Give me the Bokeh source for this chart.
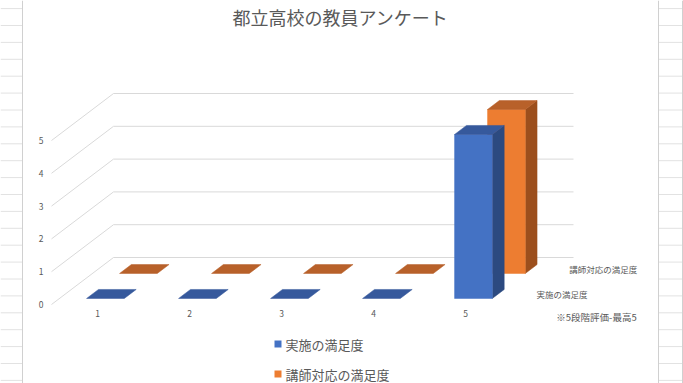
from bokeh.plotting import figure
from bokeh.models import Range1d
from bokeh.embed import file_html
from bokeh.resources import INLINE
from bokeh.core.properties import value

# ---------------- data ----------------
chart_title = "都立高校の教員アンケート"
categories = [1, 2, 3, 4, 5]
series_names = ["実施の満足度", "講師対応の満足度"]
jisshi = [0, 0, 0, 0, 5]       # 実施の満足度
koushi = [0, 0, 0, 0, 5]       # 講師対応の満足度
value_ticks = [0, 1, 2, 3, 4, 5]
depth_axis_title = "※5段階評価-最高5"

series_values = [jisshi, koushi]
front_colors = ["#4472C4", "#ED7D31"]
side_colors = ["#2C4A80", "#9C4F1D"]
top_colors = ["#36599C", "#B8612A"]

FONT = value("Noto Sans CJK JP")
TXT = "#595959"

# ---------------- layout / projection ----------------
W, H = 683, 383
FX0, FY0 = 0, 0
X0, CX, DX = 97.0, 92.0, 62.0
Y0, VY, DY = 304.0, 32.8, 47.0
BAR_W = 0.41
DEPTH = [(0.128, 0.32), (0.66, 0.85)]


def px(page_x):
    return 1 + (page_x - X0) / CX


def py(page_y):
    return (Y0 - page_y) / VY


def proj(c, v, d):
    return c + d * DX / CX, v + d * DY / VY


p = figure(width=W, height=H, output_backend="svg", toolbar_location=None,
           x_range=Range1d(px(FX0), px(FX0 + W)),
           y_range=Range1d(py(FY0 + H), py(FY0)),
           x_axis_location=None, y_axis_location=None,
           min_border=0, outline_line_color=None, background_fill_color="white",
           border_fill_color="white")
p.grid.visible = False

# spreadsheet background grid (outside chart area)
gx, gy = [], []
rows = [8.1] + [25 + 16.9 * k for k in range(22)]
for ry in rows:
    for a, b in ((FX0, 22), (658, FX0 + W)):
        gx.append([px(a), px(b)])
        gy.append([py(ry), py(ry)])
p.multi_line(gx, gy, line_color="#e2e2e2", line_width=1)
p.multi_line([[px(22), px(22)], [px(658), px(658)], [px(682), px(682)]],
             [[py(0), py(400)], [py(0), py(400)], [py(0), py(400)]],
             line_color="#d0d0d0", line_width=1)

# walls gridlines
wx, wy = [], []
for v in value_ticks:
    a = proj(0.5, v, 0)
    b = proj(0.5, v, 1)
    c = proj(5.5, v, 1)
    wx.append([a[0], b[0], c[0]])
    wy.append([a[1], b[1], c[1]])
p.multi_line(wx, wy, line_color="#d9d9d9", line_width=1)

# bars (back series first)
xs, ys, cols = [], [], []


def face(pts, col):
    xx, yy = zip(*[proj(*q) for q in pts])
    xs.append(list(xx))
    ys.append(list(yy))
    cols.append(col)


for s in (1, 0):
    df, db = DEPTH[s]
    for c, v in zip(categories, series_values[s]):
        l, r = c - BAR_W / 2, c + BAR_W / 2
        if v > 0:
            face([(r, 0, df), (r, 0, db), (r, v, db), (r, v, df)], side_colors[s])
            face([(l, 0, df), (r, 0, df), (r, v, df), (l, v, df)], front_colors[s])
        face([(l, v, df), (r, v, df), (r, v, db), (l, v, db)], top_colors[s])

p.patches(xs, ys, fill_color=cols, line_color=cols, line_width=0.5)

# value tick labels
p.text(x=[proj(0.5, v, 0)[0] for v in value_ticks], y=value_ticks,
       text=[str(v) for v in value_ticks], x_offset=-8,
       text_align="right", text_baseline="middle", text_font=FONT,
       text_font_size="8.5px", text_color=TXT)

# category labels
p.text(x=categories, y=[0] * len(categories), text=[str(c) for c in categories],
       y_offset=9, text_align="center", text_baseline="middle", text_font=FONT,
       text_font_size="8.5px", text_color=TXT)

# depth (series) axis labels
dmid = [(a + b) / 2 for a, b in DEPTH]
lx = [proj(5.5, 0, d)[0] for d in dmid]
ly = [proj(5.5, 0, d)[1] for d in dmid]
p.text(x=lx, y=ly, text=series_names, x_offset=11,
       text_align="left", text_baseline="middle", text_font=FONT,
       text_font_size="8.5px", text_color=TXT)
p.text(x=[px(596)], y=[py(316)], text=[depth_axis_title],
       text_align="center", text_baseline="middle", text_font=FONT,
       text_font_size="9.5px", text_color=TXT)

# title
p.text(x=[px(340)], y=[py(16)], text=[chart_title], text_align="center",
       text_baseline="middle", text_font=FONT, text_font_size="18px", text_color=TXT)

# legend
leg_y = [343.5, 373.5]
p.scatter(x=[px(277.5)] * 2, y=[py(v) for v in leg_y], marker="square", size=7,
          fill_color=front_colors, line_color=None)
p.text(x=[px(285)] * 2, y=[py(v) for v in leg_y], text=series_names,
       text_align="left", text_baseline="middle", text_font=FONT,
       text_font_size="13px", text_color=TXT)

open("out.html", "w").write(file_html(p, INLINE))
